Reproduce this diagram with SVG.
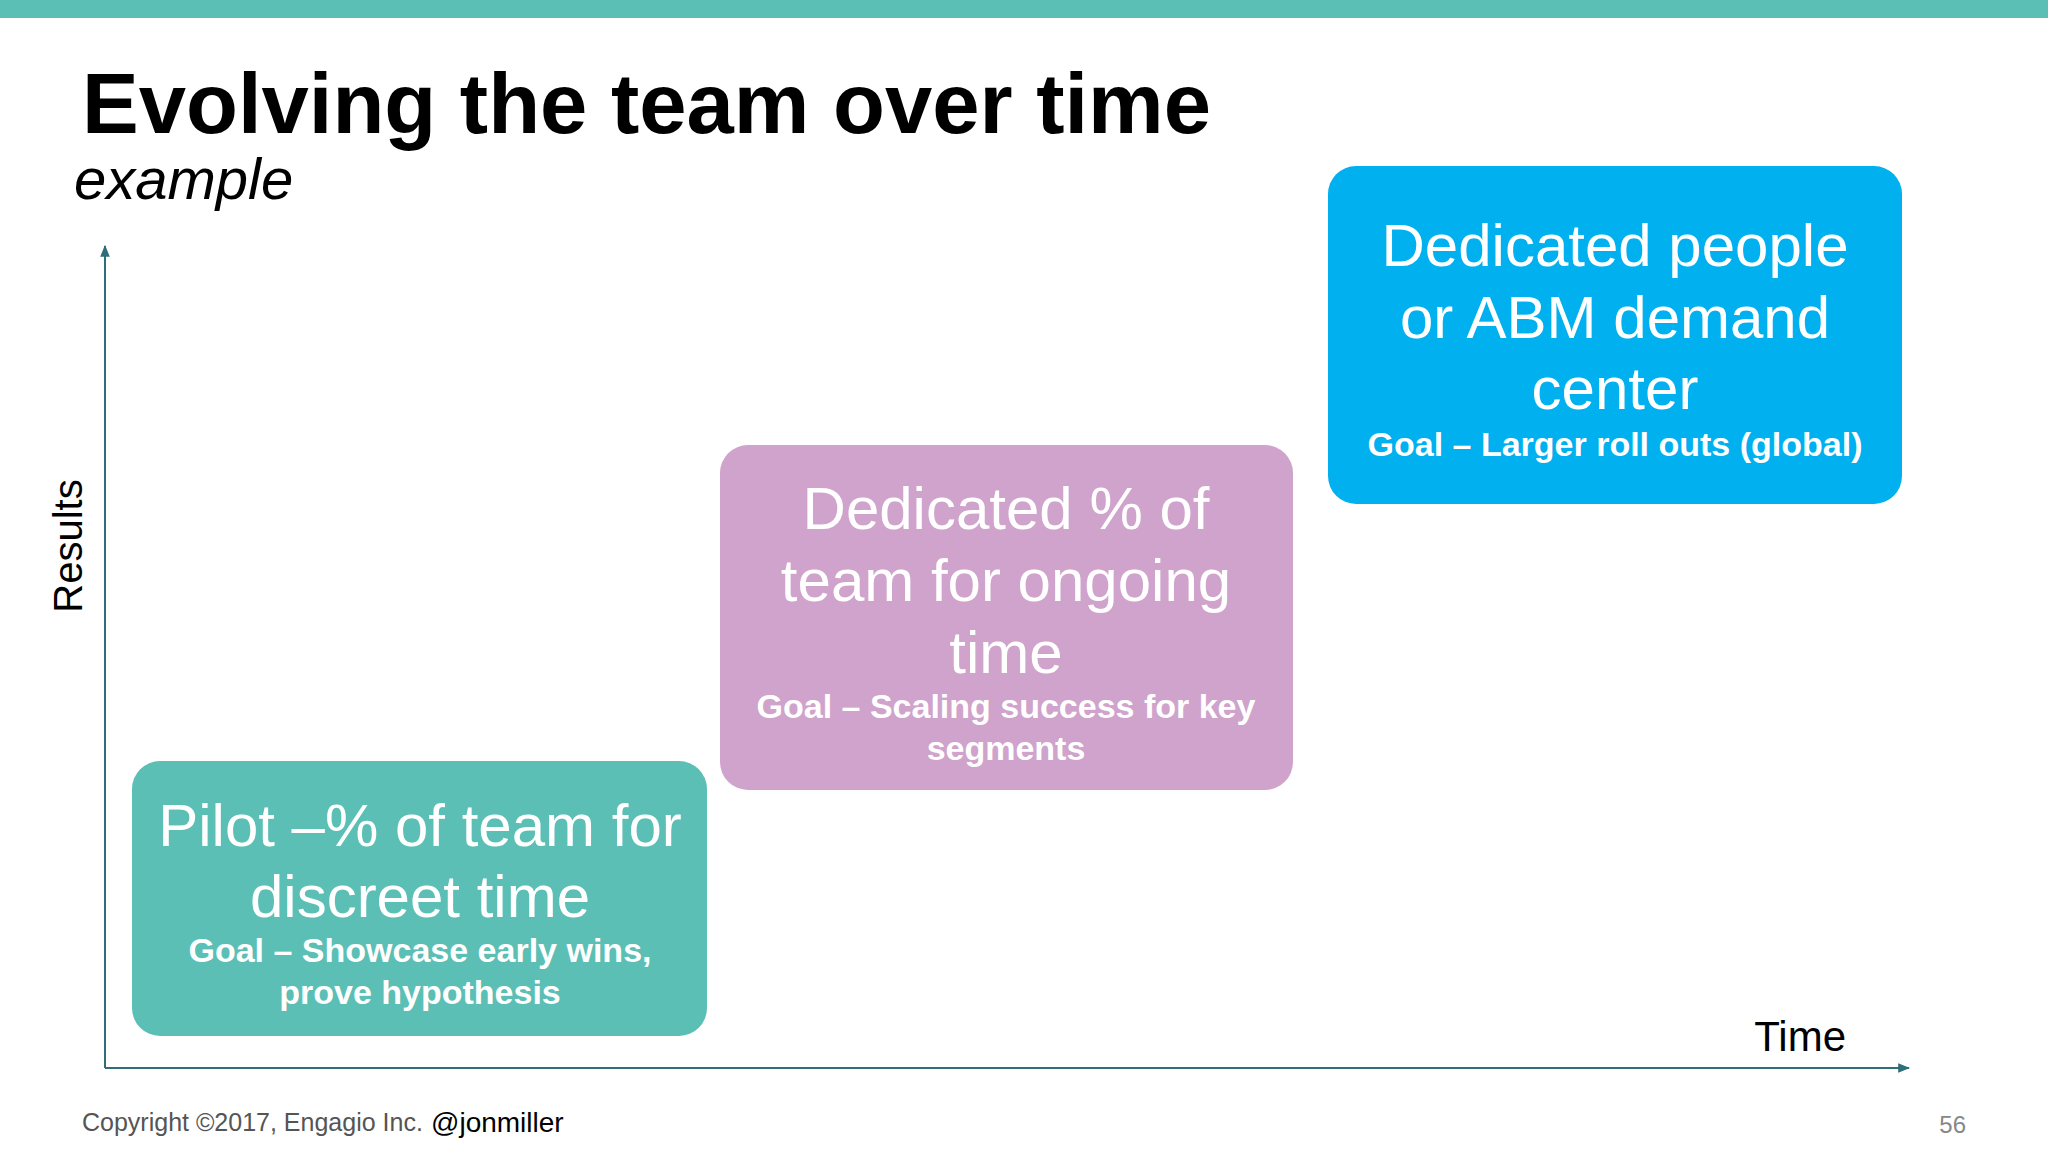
<svg xmlns="http://www.w3.org/2000/svg" width="2048" height="1152" viewBox="0 0 2048 1152">
<defs>
<style>
.t{font-family:"Liberation Sans",Arial,sans-serif}
.big{font-size:60px;fill:#fff;text-anchor:middle}
.goal{font-size:34px;font-weight:bold;fill:#fff;text-anchor:middle}
</style>
<marker id="ah" viewBox="0 0 10 10" refX="9" refY="5" markerWidth="6" markerHeight="6" orient="auto"><path d="M0,1 L10,5 L0,9 z" fill="#2e6e78"/></marker>
</defs>
<rect width="2048" height="1152" fill="#fff"/>
<rect width="2048" height="18" fill="#5bbfb5"/>
<text class="t" x="82" y="133" font-size="85" font-weight="bold" fill="#000">Evolving the team over time</text>
<text class="t" x="74" y="199" font-size="58" font-style="italic" fill="#000">example</text>
<g id="connectors" stroke="#2e6e78" stroke-width="2" fill="none">
<line x1="105" y1="1068" x2="105" y2="246" marker-end="url(#ah)"/>
<line x1="105" y1="1068" x2="1909" y2="1068" marker-end="url(#ah)"/>
</g>
<text class="t" transform="translate(82,546) rotate(-90)" font-size="40" text-anchor="middle" fill="#000">Results</text>
<text class="t" x="1846" y="1051" font-size="42" text-anchor="end" fill="#000">Time</text>
<g id="pilot">
<rect x="132" y="761" width="575" height="275" rx="28" fill="#5bbfb5"/>
<text class="t big" x="420" y="846">Pilot –% of team for</text>
<text class="t big" x="420" y="917">discreet time</text>
<text class="t goal" x="420" y="962">Goal – Showcase early wins,</text>
<text class="t goal" x="420" y="1004">prove hypothesis</text>
</g>
<g id="dedicated-percent">
<rect x="720" y="445" width="573" height="345" rx="28" fill="#cfa3cb"/>
<text class="t big" x="1006" y="529">Dedicated % of</text>
<text class="t big" x="1006" y="601">team for ongoing</text>
<text class="t big" x="1006" y="673">time</text>
<text class="t goal" x="1006" y="718">Goal – Scaling success for key</text>
<text class="t goal" x="1006" y="760">segments</text>
</g>
<g id="dedicated-people">
<rect x="1328" y="166" width="574" height="338" rx="28" fill="#00b0ef"/>
<text class="t big" x="1615" y="266">Dedicated people</text>
<text class="t big" x="1615" y="338">or ABM demand</text>
<text class="t big" x="1615" y="409">center</text>
<text class="t goal" x="1615" y="456">Goal – Larger roll outs (global)</text>
</g>
<text class="t" x="82" y="1131" font-size="25" fill="#555">Copyright ©2017, Engagio Inc.</text>
<text class="t" x="431" y="1132" font-size="28" fill="#000">@jonmiller</text>
<text class="t" x="1966" y="1133" font-size="24" text-anchor="end" fill="#888">56</text>
</svg>
